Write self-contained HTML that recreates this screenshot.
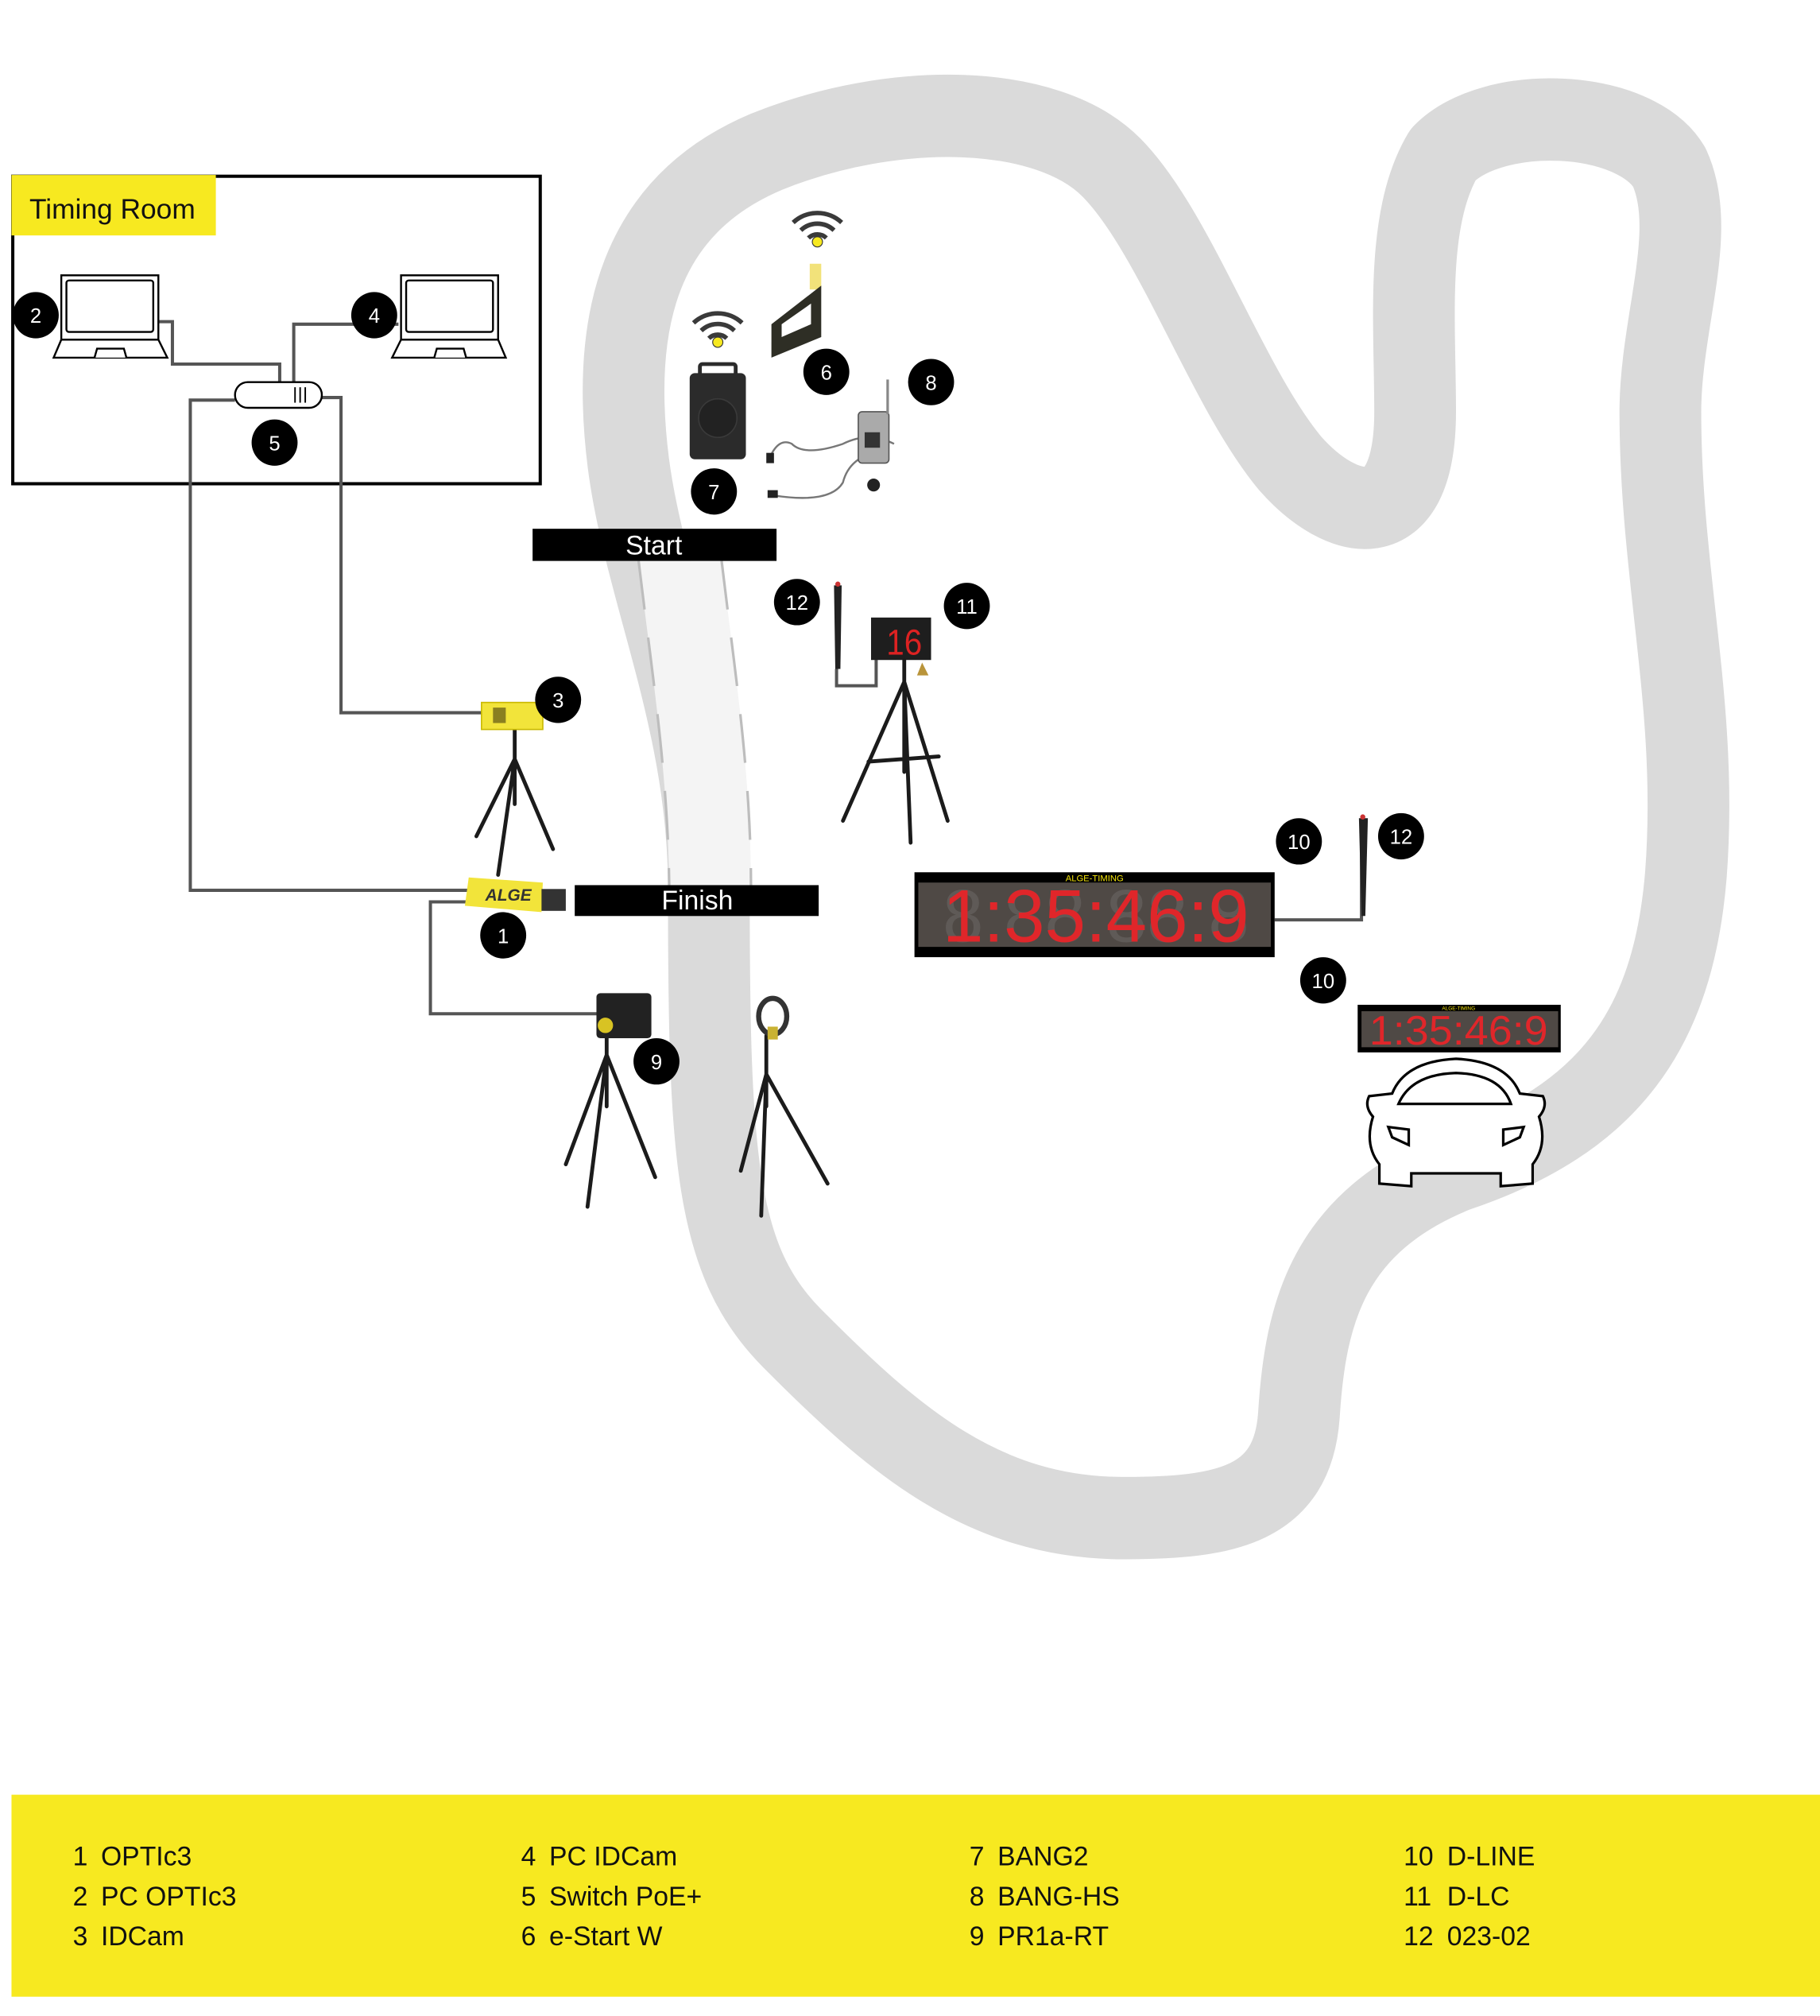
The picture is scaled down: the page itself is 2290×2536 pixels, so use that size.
<!DOCTYPE html>
<html><head><meta charset="utf-8"><style>
html,body{margin:0;padding:0;background:#fff;}
svg{display:block;}
text{font-family:"Liberation Sans",sans-serif;}
</style></head><body>
<svg width="2290" height="2536" viewBox="0 0 1425 1567" preserveAspectRatio="none" xmlns="http://www.w3.org/2000/svg">
<!-- track -->
<path d="M555,690 C555,560 505,460 492,360 C478,250 500,160 600,118 C700,78 820,80 870,130 C920,180 960,300 1010,360 C1050,405 1108,420 1108,320 C1108,250 1100,170 1130,120 C1170,80 1280,85 1307,130 C1330,180 1300,250 1300,320 C1300,450 1330,550 1320,680 C1310,800 1260,870 1140,910 C1040,950 1022,1020 1017,1100 C1012,1170 960,1180 880,1180 C770,1180 700,1120 620,1040 C560,980 555,900 555,690 Z" fill="none" stroke="#dadada" stroke-width="64" stroke-linejoin="round"/>
<!-- light lane -->
<path d="M500,436 C510,520 523,600 524,690 L588,690 C588,600 575,520 565,436 Z" fill="#f4f4f4"/>
<path d="M500,436 C510,520 523,600 524,690" fill="none" stroke="#bdbdbd" stroke-width="2" stroke-dasharray="38,22"/>
<path d="M565,436 C575,520 588,600 588,690" fill="none" stroke="#bdbdbd" stroke-width="2" stroke-dasharray="38,22"/>

<!-- timing room -->
<rect x="10" y="137" width="413" height="239" fill="none" stroke="#000" stroke-width="2.5"/>
<rect x="9" y="136" width="160" height="47" fill="#f7e920"/>
<text x="23" y="170" font-size="22" fill="#111">Timing Room</text>

<!-- cables -->
<g fill="none" stroke="#555" stroke-width="2.5">
<polyline points="124,250 135,250 135,283 219,283 219,297"/>
<polyline points="312,252 230,252 230,297"/>
<polyline points="184,311 149,311 149,692 367,692"/>
<polyline points="252,309 267,309 267,554 380,554"/>
<polyline points="367,701 337,701 337,788 468,788"/>
<polyline points="655,520 655,533 686,533 686,512"/>
<polyline points="998,715 1066,715 1066,655"/>
</g>

<!-- laptops -->
<g fill="#fff" stroke="#000" stroke-width="1.5">
<rect x="48" y="214" width="76" height="50"/><rect x="52" y="218" width="68" height="40" rx="2"/>
<path d="M48,264 L42,278 L131,278 L124,264 Z"/><path d="M74,278 L76,271 L97,271 L99,278"/>
<rect x="314" y="214" width="76" height="50"/><rect x="318" y="218" width="68" height="40" rx="2"/>
<path d="M314,264 L307,278 L396,278 L390,264 Z"/><path d="M340,278 L342,271 L363,271 L365,278"/>
</g>
<!-- switch -->
<rect x="184" y="297" width="68" height="20" rx="10" fill="#fff" stroke="#000" stroke-width="1.5"/>
<g stroke="#000" stroke-width="1.2"><line x1="231" y1="301" x2="231" y2="313"/><line x1="235" y1="301" x2="235" y2="313"/><line x1="239" y1="301" x2="239" y2="313"/></g>

<!-- wifi icons -->
<g fill="none" stroke="#3a3a3a" stroke-width="3.5">
<path d="M543,251 A28,28 0 0 1 581,251"/><path d="M549,257 A19,19 0 0 1 575,257"/><path d="M555,263 A10,10 0 0 1 569,263"/>
<path d="M621,173 A28,28 0 0 1 659,173"/><path d="M627,179 A19,19 0 0 1 653,179"/><path d="M633,185 A10,10 0 0 1 647,185"/>
</g>
<circle cx="562" cy="266" r="4" fill="#f7e920" stroke="#333" stroke-width="0.7"/>
<circle cx="640" cy="188" r="4" fill="#f7e920" stroke="#333" stroke-width="0.7"/>
<!-- speaker -->
<rect x="540" y="290" width="44" height="67" rx="4" fill="#2b2b2b"/>
<rect x="548" y="283" width="28" height="9" rx="2" fill="none" stroke="#2b2b2b" stroke-width="3"/>
<circle cx="562" cy="325" r="15" fill="#222" stroke="#3a3a3a"/>
<!-- e-start -->
<rect x="634" y="205" width="9" height="20" fill="#f2e27a"/>
<path d="M604,252 L643,222 L643,262 L604,278 Z" fill="#2e2e25"/>
<path d="M612,252 L635,236 L635,252 L612,262 Z" fill="#fff"/>
<!-- headset -->
<g fill="none" stroke="#777" stroke-width="1.5">
<path d="M603,355 Q610,340 620,345 Q630,355 660,345 Q680,335 700,345"/>
<path d="M605,385 Q650,392 660,375 Q665,355 690,350"/>
</g>
<rect x="600" y="352" width="6" height="8" fill="#222"/><rect x="601" y="381" width="8" height="6" fill="#222"/>
<rect x="672" y="320" width="24" height="40" rx="3" fill="#aaa" stroke="#555"/>
<rect x="677" y="336" width="12" height="12" fill="#333"/>
<line x1="695" y1="295" x2="695" y2="322" stroke="#888" stroke-width="2"/>
<circle cx="684" cy="377" r="5" fill="#222"/>

<!-- posts 12 -->
<path d="M653,455 L659,455 L658,520 L654,520 Z" fill="#222"/><circle cx="656" cy="454" r="2" fill="#c33"/>
<path d="M1064,636 L1071,636 L1069,712 L1066,712 Z" fill="#222"/><circle cx="1067" cy="635" r="2" fill="#c33"/>

<!-- D-LC -->
<rect x="682" y="480" width="47" height="33" fill="#1e1e1e"/>
<text x="694" y="509" font-size="28" fill="#d22" textLength="28" lengthAdjust="spacingAndGlyphs">16</text>
<path d="M718,525 L722,515 L727,525 Z" fill="#b9943a"/>
<!-- tripods -->
<g stroke="#1b1b1b" stroke-width="3" fill="none" stroke-linecap="round">
<path d="M708,513 L708,600 M708,530 L660,638 M708,530 L742,638 M708,530 L713,655 M680,592 L735,588"/>
<path d="M403,567 L403,625 M403,590 L373,650 M403,590 L433,660 M403,590 L390,680"/>
<path d="M475,805 L475,860 M475,820 L443,905 M475,820 L513,915 M475,820 L460,938"/>
<path d="M600,805 L600,860 M600,835 L580,910 M600,835 L648,920 M600,835 L596,945"/>
</g>
<!-- IDCam -->
<rect x="377" y="546" width="48" height="21" fill="#f2e43a" stroke="#c9b900"/>
<rect x="386" y="550" width="10" height="12" fill="#8a7f20"/>
<!-- OPTIc -->
<path d="M367,682 L425,686 L424,709 L364,704 Z" fill="#f2e43a"/>
<text x="380" y="700" font-size="13" font-weight="bold" font-style="italic" fill="#333">ALGE</text>
<rect x="424" y="691" width="19" height="17" fill="#333"/>
<!-- PR1a -->
<rect x="467" y="772" width="43" height="35" rx="3" fill="#222"/>
<circle cx="474" cy="797" r="6" fill="#d8c323"/>
<!-- lamp -->
<ellipse cx="605" cy="790" rx="11" ry="14" fill="none" stroke="#333" stroke-width="4"/>
<rect x="601" y="798" width="8" height="10" fill="#c9b232"/>

<!-- D-LINE big -->
<rect x="716" y="678" width="282" height="66" fill="#000"/>
<rect x="719" y="686" width="276" height="50" fill="#4f4945"/>
<text x="857" y="685" font-size="7" fill="#f2e20a" text-anchor="middle">ALGE-TIMING</text>
<text x="738" y="732" font-size="58" fill="#5f5a57" textLength="240" lengthAdjust="spacingAndGlyphs">8:88:88:8</text>
<text x="738" y="732" font-size="58" fill="#e0262a" textLength="240" lengthAdjust="spacingAndGlyphs">1:35:46:9</text>
<!-- D-LINE small -->
<rect x="1063" y="781" width="159" height="37" fill="#000"/>
<rect x="1066" y="786" width="154" height="28" fill="#4f4945"/>
<text x="1142" y="785" font-size="4" fill="#f2e20a" text-anchor="middle">ALGE-TIMING</text>
<text x="1072" y="812" font-size="32" fill="#e0262a" textLength="140" lengthAdjust="spacingAndGlyphs">1:35:46:9</text>

<!-- car -->
<g fill="#fff" stroke="#000" stroke-width="2">
<path d="M1090,850 Q1100,825 1140,823 Q1180,825 1190,850 L1208,852 Q1212,860 1205,868 Q1212,890 1200,905 L1200,920 L1175,922 L1175,912 L1105,912 L1105,922 L1080,920 L1080,905 Q1068,890 1075,868 Q1068,860 1072,852 Z"/>
<path d="M1095,858 Q1105,835 1140,834 Q1175,835 1183,858 Z"/>
<path d="M1087,876 L1103,878 L1103,890 L1090,884 Z"/>
<path d="M1193,876 L1177,878 L1177,890 L1190,884 Z"/>
</g>

<!-- start/finish labels -->
<rect x="417" y="411" width="191" height="25" fill="#000"/>
<text x="512" y="431" font-size="21" fill="#fff" text-anchor="middle">Start</text>
<rect x="450" y="688" width="191" height="24" fill="#000"/>
<text x="546" y="707" font-size="21" fill="#fff" text-anchor="middle">Finish</text>

<!-- number badges -->
<g font-size="16" fill="#fff" text-anchor="middle">
<circle cx="28" cy="245" r="18" fill="#000"/><text x="28" y="251">2</text>
<circle cx="293" cy="245" r="18" fill="#000"/><text x="293" y="251">4</text>
<circle cx="215" cy="344" r="18" fill="#000"/><text x="215" y="350">5</text>
<circle cx="647" cy="289" r="18" fill="#000"/><text x="647" y="295">6</text>
<circle cx="729" cy="297" r="18" fill="#000"/><text x="729" y="303">8</text>
<circle cx="559" cy="382" r="18" fill="#000"/><text x="559" y="388">7</text>
<circle cx="624" cy="468" r="18" fill="#000"/><text x="624" y="474">12</text>
<circle cx="757" cy="471" r="18" fill="#000"/><text x="757" y="477">11</text>
<circle cx="437" cy="544" r="18" fill="#000"/><text x="437" y="550">3</text>
<circle cx="394" cy="727" r="18" fill="#000"/><text x="394" y="733">1</text>
<circle cx="514" cy="825" r="18" fill="#000"/><text x="514" y="831">9</text>
<circle cx="1017" cy="654" r="18" fill="#000"/><text x="1017" y="660">10</text>
<circle cx="1097" cy="650" r="18" fill="#000"/><text x="1097" y="656">12</text>
<circle cx="1036" cy="762" r="18" fill="#000"/><text x="1036" y="768">10</text>
</g>

<!-- legend -->
<rect x="9" y="1395" width="1416" height="157" fill="#f7e920"/>
<g font-size="21" fill="#111">
<text x="57" y="1450">1</text><text x="79" y="1450">OPTIc3</text>
<text x="57" y="1481">2</text><text x="79" y="1481">PC OPTIc3</text>
<text x="57" y="1512">3</text><text x="79" y="1512">IDCam</text>
<text x="408" y="1450">4</text><text x="430" y="1450">PC IDCam</text>
<text x="408" y="1481">5</text><text x="430" y="1481">Switch PoE+</text>
<text x="408" y="1512">6</text><text x="430" y="1512">e-Start W</text>
<text x="759" y="1450">7</text><text x="781" y="1450">BANG2</text>
<text x="759" y="1481">8</text><text x="781" y="1481">BANG-HS</text>
<text x="759" y="1512">9</text><text x="781" y="1512">PR1a-RT</text>
<text x="1099" y="1450">10</text><text x="1133" y="1450">D-LINE</text>
<text x="1099" y="1481">11</text><text x="1133" y="1481">D-LC</text>
<text x="1099" y="1512">12</text><text x="1133" y="1512">023-02</text>
</g>
</svg>
</body></html>
